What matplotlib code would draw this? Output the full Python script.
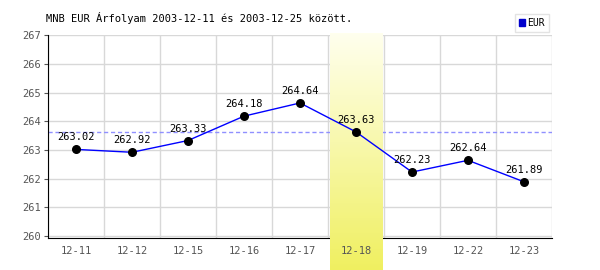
import numpy as np
import matplotlib
matplotlib.use("Agg")
import matplotlib.pyplot as plt
from matplotlib.colors import LinearSegmentedColormap

# Adatok
dates = ["12-11", "12-12", "12-15", "12-16", "12-17", "12-18", "12-19", "12-22", "12-23"]
eur = [263.02, 262.92, 263.33, 264.18, 264.64, 263.63, 262.23, 262.64, 261.89]
highlight_idx = 5
title = "MNB EUR Árfolyam 2003-12-11 és 2003-12-25 között."

W, H = 600, 270
fig = plt.figure(figsize=(W / 100, H / 100), dpi=100)
fig.patch.set_facecolor("white")

font = "DejaVu Sans Mono"
left, right, top, bottom = 48, 552, 35.3, 238

ax = fig.add_axes([left / W, 1 - bottom / H, (right - left) / W, (bottom - top) / H])

n = len(dates)
x = np.arange(n)
ymin, ymax = 259.93, 267
ax.set_xlim(-0.5, n - 0.5)
ax.set_ylim(ymin, ymax)

# rács
for i in range(n + 1):
    ax.axvline(i - 0.5, color="#d8d8d8", lw=1, zorder=1)
for v in range(260, 268):
    ax.axhline(v, color="#d8d8d8", lw=1, zorder=1)

ax.axhline(eur[highlight_idx], color="#9090ff", lw=1, ls=(0, (3, 2)), zorder=2)

# kiemelt sáv (sárga színátmenet), a rács fölött, a görbe alatt
ppu = (bottom - top) / (ymax - ymin)
band_top = ymax + (top - 33) / ppu
band_bot = ymin - (H - bottom) / ppu
cmap = LinearSegmentedColormap.from_list("hl", [(1, 1, 0.93), (0.94, 0.94, 0.38)])
im = ax.imshow(np.linspace(0, 1, 100).reshape(-1, 1), aspect="auto", cmap=cmap,
               extent=[highlight_idx - 0.5 + 2 / 56, highlight_idx + 0.5 - 1 / 56, band_bot, band_top],
               origin="upper", zorder=2.5)
im.set_clip_on(False)
ax.set_xlim(-0.5, n - 0.5)
ax.set_ylim(ymin, ymax)

ax.plot(x, eur, color="blue", lw=1, zorder=3)
ax.scatter(x, eur, s=30, color="black", zorder=4)
for xi, v in zip(x, eur):
    ax.annotate(f"{v:.2f}", (xi, v), xytext=(0, 5), textcoords="offset points",
                ha="center", va="bottom", fontsize=7.5, family=font, color="black", zorder=5)

ax.set_xticks(x)
ax.set_xticklabels(dates, fontsize=7.5, family=font, color="#555555")
ax.set_yticks(range(260, 268))
ax.set_yticklabels([str(v) for v in range(260, 268)], fontsize=7.5, family=font, color="#555555")
ax.tick_params(axis="x", length=0, pad=6)
ax.tick_params(axis="y", length=3, width=0.8, color="#555555", pad=2)
ax.xaxis.set_zorder(6)

for s in ["top", "right"]:
    ax.spines[s].set_visible(False)
ax.spines["left"].set_color("black")
ax.spines["bottom"].set_color("black")
ax.spines["left"].set_zorder(2)
ax.spines["bottom"].set_zorder(2)

fig.text(46 / W, 1 - 18 / H, title, fontsize=7.5, family=font, ha="left", va="center")

# jelmagyarázat
leg = ax.legend([plt.Rectangle((0, 0), 1, 1, color="#0000cc")], ["EUR"],
                loc="upper right", bbox_to_anchor=(549 / W, 1 - 14 / H),
                bbox_transform=fig.transFigure, prop={"family": font, "size": 7},
                frameon=True, fancybox=False, handlelength=0.6, handleheight=0.6,
                handletextpad=0.3, borderpad=0.4, borderaxespad=0)
leg.get_frame().set_edgecolor("#dddddd")
leg.get_frame().set_linewidth(1)
leg.set_zorder(7)

fig.savefig("out.png", dpi=100)
